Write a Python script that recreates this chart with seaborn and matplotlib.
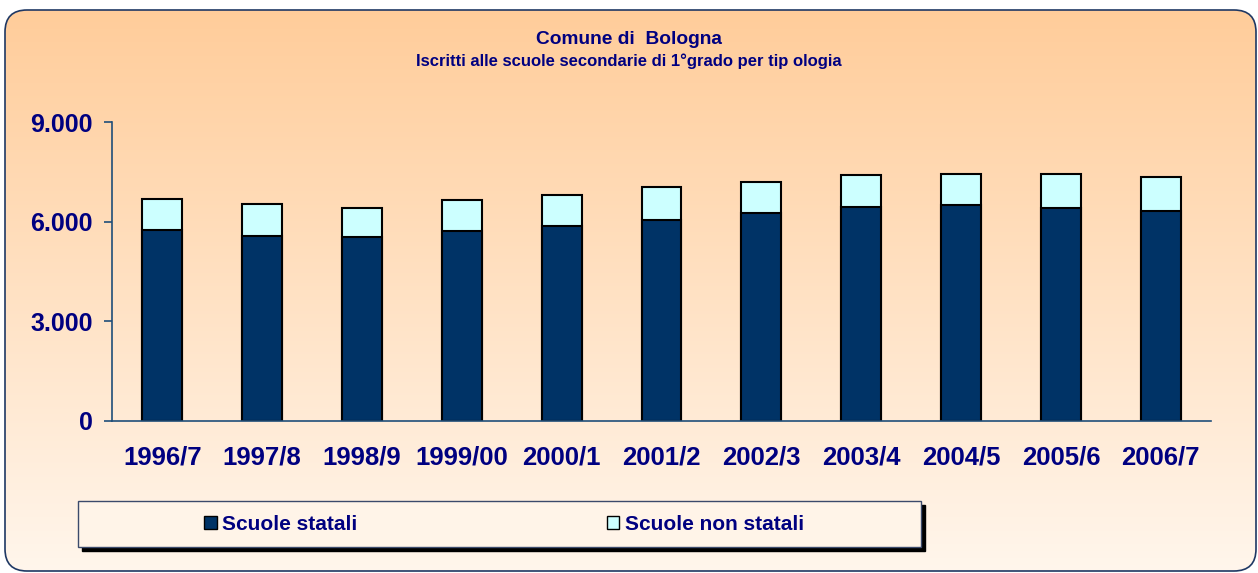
import numpy as np
import pandas as pd
import seaborn as sns
import matplotlib.pyplot as plt
from matplotlib.patches import FancyBboxPatch, Rectangle, Patch

# values
anni = ["1996/7", "1997/8", "1998/9", "1999/00", "2000/1", "2001/2",
        "2002/3", "2003/4", "2004/5", "2005/6", "2006/7"]
statali = [5740, 5580, 5550, 5720, 5880, 6050, 6270, 6440, 6500, 6420, 6320]
non_statali = [955, 965, 875, 935, 935, 1010, 935, 960, 940, 1015, 1040]
y_ticks = [0, 3000, 6000, 9000]
y_labels = ["0", "3.000", "6.000", "9.000"]

NAVY = "#003366"
CYAN = "#CCFFFF"
TXT = "#000080"
AXC = "#1F4E79"

sns.set_theme(style="white")
plt.rcParams["font.family"] = ["Liberation Sans", "DejaVu Sans"]
plt.rcParams["font.weight"] = "bold"

df = pd.DataFrame({"anno": anni, "statali": statali, "non_statali": non_statali})
df["totale"] = df["statali"] + df["non_statali"]

W, H = 1258, 573
fig = plt.figure(figsize=(W / 100, H / 100), dpi=100)
fig.patch.set_facecolor("white")

# rounded gradient background
bg = fig.add_axes([0, 0, 1, 1], zorder=-5)
bg.set_xlim(0, 1)
bg.set_ylim(0, 1)
bg.axis("off")
box = FancyBboxPatch((0.05, 0.02), 12.51, 5.61,
                     boxstyle="round,pad=0,rounding_size=0.22",
                     transform=fig.dpi_scale_trans, facecolor="none",
                     edgecolor="#1F3864", linewidth=1.2, zorder=3)
bg.add_patch(box)
top = np.array([255, 204, 153]) / 255
bot = np.array([255, 246, 236]) / 255
t = np.linspace(0, 1, 256)[:, None]
grad = top[None, :] * (1 - t) + bot[None, :] * t
grad = np.repeat(grad[:, None, :], 2, axis=1)
im = bg.imshow(grad, extent=[0, 1, 0, 1], aspect="auto", origin="upper", zorder=1)
im.set_clip_path(box)

# legend frame with shadow
lx0, ly0 = 78 / W, (H - 547) / H
lw, lh = 843 / W, 46 / H
bg.add_patch(Rectangle((lx0 + 4 / W, ly0 - 4 / H), lw, lh, transform=fig.transFigure,
                       facecolor="black", edgecolor="black", zorder=4))
bg.add_patch(Rectangle((lx0, ly0), lw, lh, transform=fig.transFigure,
                       facecolor="#FFF4E8", edgecolor="#3B4A6B", linewidth=1.0, zorder=5))

# main chart
ax = fig.add_axes([112.3 / W, (H - 420.7) / H, (1210.7 - 112.3) / W, (420.7 - 122.3) / H])
ax.patch.set_alpha(0)
sns.barplot(data=df, x="anno", y="totale", color=CYAN, width=0.4, saturation=1,
            edgecolor="black", linewidth=1.5, ax=ax)
sns.barplot(data=df, x="anno", y="statali", color=NAVY, width=0.4, saturation=1,
            edgecolor="black", linewidth=1.5, ax=ax)

ax.set_ylim(0, 9000)
ax.set_xlim(-0.5, len(anni) - 0.5)
ax.set_yticks(y_ticks)
ax.set_yticklabels(y_labels, fontsize=18, color=TXT, fontweight="bold")
ax.set_xticks(range(len(anni)))
ax.set_xticklabels(anni, fontsize=18.5, color=TXT, fontweight="bold")
ax.set_xticks(np.arange(-0.5, len(anni)), minor=True)
ax.tick_params(axis="x", which="major", length=0, pad=18)
ax.tick_params(axis="x", which="minor", length=6, width=1.2, color=AXC, direction="out")
ax.tick_params(axis="y", length=6, width=1.2, color=AXC, direction="out", pad=8, left=True)
ax.set_xlabel("")
ax.set_ylabel("")
for s in ["top", "right"]:
    ax.spines[s].set_visible(False)
for s in ["left", "bottom"]:
    ax.spines[s].set_color(AXC)
    ax.spines[s].set_linewidth(1.2)

fig.text(0.5, 1 - 39 / H, "Comune di  Bologna", ha="center", va="center",
         fontsize=13.8, color=TXT, fontweight="bold")
fig.text(0.5, 1 - 61 / H, "Iscritti alle scuole secondarie di 1°grado per tip ologia",
         ha="center", va="center", fontsize=12, color=TXT, fontweight="bold")

handles = [Patch(facecolor=NAVY, edgecolor="black", linewidth=1),
           Patch(facecolor=CYAN, edgecolor="black", linewidth=1)]
leg = fig.legend(handles, ["Scuole statali", "Scuole non statali"], loc="center left",
                 bbox_to_anchor=(204 / W, (H - 524) / H), ncol=2, frameon=False,
                 borderpad=0, borderaxespad=0, handlelength=0.6, handleheight=0.6,
                 handletextpad=0.25, columnspacing=12.0,
                 prop={"size": 15, "weight": "bold"})
for txt in leg.get_texts():
    txt.set_color(TXT)

fig.savefig("out.png", dpi=100)
